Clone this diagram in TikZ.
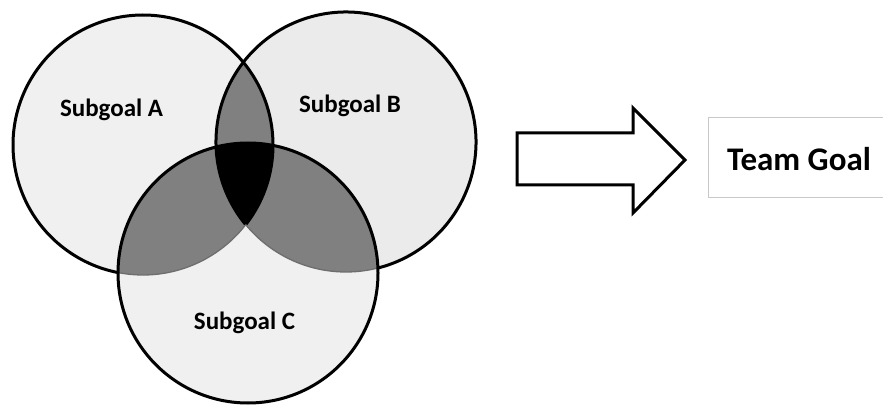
\documentclass[tikz,border=0pt]{standalone}
\usepackage{fontspec}
\setmainfont{Carlito}
\begin{document}
\begin{tikzpicture}[x=1pt,y=1pt,
  outline/.style={line width=3pt,draw=black},
  inner/.style={line width=1.3pt,draw=innergray},
  label/.style={font=\fontsize{25}{30}\selectfont\bfseries,anchor=base,inner sep=0pt},
  goal/.style={font=\fontsize{33}{40}\selectfont\bfseries,anchor=base,inner sep=0pt}]
\definecolor{fillA}{HTML}{EFF0EF}
\definecolor{fillB}{HTML}{EBEBEB}
\definecolor{fillC}{HTML}{EFF0EF}
\definecolor{lens}{HTML}{808080}
\definecolor{innergray}{HTML}{6E6E6E}
\definecolor{boxgray}{HTML}{C8C8C8}
\useasboundingbox (0,0) rectangle (883,410);
\def\R{130}
\coordinate (A) at (143,265);
\coordinate (B) at (346,268);
\coordinate (C) at (248,137);

% single-circle fills
\fill[fillA] (A) circle[radius=\R];
\fill[fillB] (B) circle[radius=\R];
\fill[fillC] (C) circle[radius=\R];
% pairwise overlaps
\begin{scope}
  \clip (A) circle[radius=\R];
  \fill[lens] (B) circle[radius=\R];
  \fill[lens] (C) circle[radius=\R];
\end{scope}
\begin{scope}
  \clip (B) circle[radius=\R];
  \fill[lens] (C) circle[radius=\R];
\end{scope}
% triple overlap
\begin{scope}
  \clip (A) circle[radius=\R];
  \clip (B) circle[radius=\R];
  \fill[black] (C) circle[radius=\R];
\end{scope}

% outlines of A and B; the arcs lying under C are lighter
\draw[outline] (A) ++(-37.8:\R) arc[start angle=-37.8, end angle=258.9, radius=\R];
\draw[outline] (B) ++(-75.8:\R) arc[start angle=-75.8, end angle=219.5, radius=\R];
\draw[inner] (A) ++(-101.1:\R) arc[start angle=-101.1, end angle=-37.8, radius=\R];
\draw[inner] (B) ++(-140.5:\R) arc[start angle=-140.5, end angle=-75.8, radius=\R];
\draw[outline] (C) circle[radius=\R];

% labels
\node[label] (la) at (111.5,293) {Subgoal A};
\node[label] (lb) at (350,297) {Subgoal B};
\node[label] (lc) at (244.5,81) {Subgoal C};

% block arrow
\draw[line width=3pt, line join=miter, fill=white]
  (517,277) coordinate (arrowtail) -- (633,277) -- (633,302) -- (685,250) coordinate (arrowtip)
  -- (633,197) -- (633,225) -- (517,225) -- cycle;

% team goal box (open on the right edge)
\draw[boxgray, line width=1pt] (884,292) -- (708,292) -- (708,212) -- (884,212);
\node[goal] (goal) at (799,239.3) {Team Goal};
\end{tikzpicture}
\end{document}
